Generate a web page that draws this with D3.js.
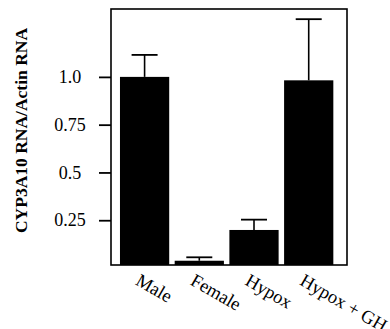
<!DOCTYPE html>
<html><head><meta charset="utf-8">
<script src="https://cdn.jsdelivr.net/npm/d3@7/dist/d3.min.js"></script>
<style>body{margin:0;background:#fff}svg{display:block}</style>
</head><body>
<script>
const categories = ["Male", "Female", "Hypox", "Hypox + GH"];
const values = [1.0, 0.038, 0.199, 0.982];
const errors = [0.115, 0.018, 0.054, 0.32];
const tickValues = [0.25, 0.5, 0.75, 1.0];
const tickLabels = ["0.25", "0.5", "0.75", "1.0"];
const yTitle = "CYP3A10 RNA/Actin RNA";

const W = 390, H = 329;
const frame = {left: 111, right: 347, top: 9, bottom: 265};
const serif = "'Liberation Serif', 'Times New Roman', serif";
const svg = d3.select("body").append("svg").attr("width", W).attr("height", H);

const y = d3.scaleLinear().domain([0, 1.35]).range([268, 10]);
const x = d3.scaleBand().domain(categories).range([114.5, 338.8]).paddingInner(0.1).paddingOuter(0.1);

// bars
svg.selectAll("rect.bar").data(categories).join("rect").attr("class", "bar")
  .attr("x", d => x(d)).attr("width", x.bandwidth())
  .attr("y", (d, i) => y(values[i]))
  .attr("height", (d, i) => frame.bottom - y(values[i]))
  .attr("fill", "#000");

// error bars
const capW = 26;
const eb = svg.selectAll("g.err").data(categories).join("g").attr("class", "err");
eb.append("line")
  .attr("x1", d => x(d) + x.bandwidth() / 2).attr("x2", d => x(d) + x.bandwidth() / 2)
  .attr("y1", (d, i) => y(values[i])).attr("y2", (d, i) => y(values[i] + errors[i]))
  .attr("stroke", "#000").attr("stroke-width", 1.6);
eb.append("line")
  .attr("x1", d => x(d) + x.bandwidth() / 2 - capW / 2).attr("x2", d => x(d) + x.bandwidth() / 2 + capW / 2)
  .attr("y1", (d, i) => y(values[i] + errors[i])).attr("y2", (d, i) => y(values[i] + errors[i]))
  .attr("stroke", "#000").attr("stroke-width", 1.8);

// frame
svg.append("rect").attr("x", frame.left).attr("y", frame.top)
  .attr("width", frame.right - frame.left).attr("height", frame.bottom - frame.top)
  .attr("fill", "none").attr("stroke", "#000").attr("stroke-width", 1.6);

// y axis
const yAxis = d3.axisLeft(y).tickValues(tickValues).tickSize(12)
  .tickFormat((d, i) => tickLabels[i]);
const ga = svg.append("g").attr("transform", `translate(${frame.left},0)`).call(yAxis);
ga.select(".domain").remove();
ga.selectAll(".tick line").attr("stroke", "#000").attr("stroke-width", 1.8);
ga.selectAll(".tick text").attr("x", -41).attr("text-anchor", "middle")
  .attr("font-family", serif).attr("font-size", 18).attr("fill", "#000");

// x labels
svg.selectAll("text.xl").data(categories).join("text").attr("class", "xl")
  .attr("transform", d => `translate(${x(d) + x.bandwidth() / 2 - 10},284) rotate(30)`)
  .attr("font-family", serif).attr("font-size", 18.5).attr("fill", "#000")
  .text(d => d);

// y title
svg.append("text")
  .attr("transform", "translate(27,130.5) rotate(-90)")
  .attr("text-anchor", "middle")
  .attr("font-family", serif)
  .attr("font-weight", "bold").attr("font-size", 17.5).attr("fill", "#000")
  .text(yTitle);
</script>
</body></html>
